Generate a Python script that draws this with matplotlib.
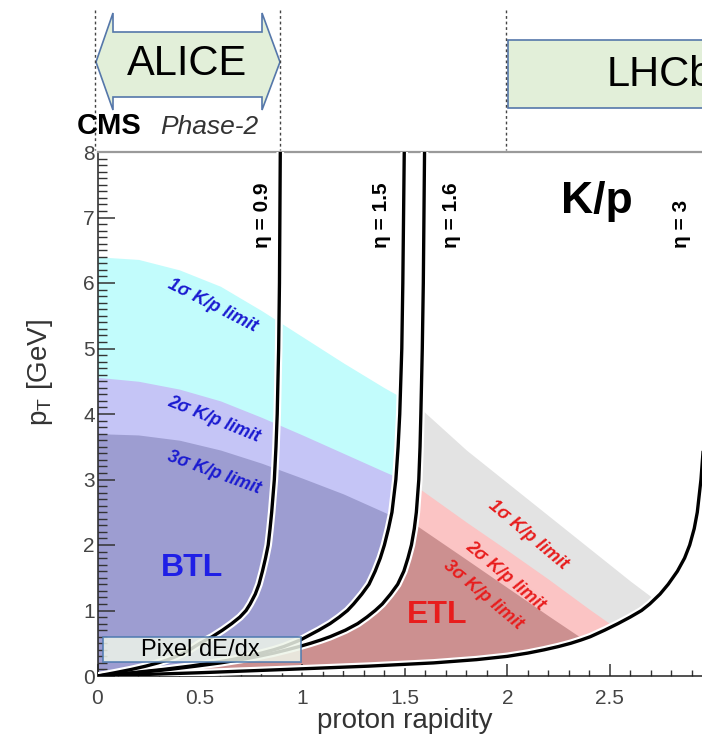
import matplotlib.pyplot as plt
from matplotlib.patches import Polygon, Rectangle
from matplotlib.ticker import MultipleLocator, FuncFormatter
from matplotlib.transforms import blended_transform_factory

plt.rcParams['font.family'] = ['Liberation Sans', 'DejaVu Sans']
plt.rcParams['mathtext.default'] = 'regular'

W, H = 702, 745

# fixed-eta curves: proton rapidity vs pT
pt_grid = [0, 0.05, 0.1, 0.15, 0.2, 0.25, 0.3, 0.35, 0.4, 0.45, 0.5, 0.55, 0.6, 0.7,
           0.8, 0.9, 1.0, 1.1, 1.25, 1.4, 1.6, 1.8, 2.0, 2.25, 2.5, 3.0, 3.5, 4.0,
           5.0, 6.0, 8.0]
rap_eta09 = [0, 0.085, 0.165, 0.235, 0.295, 0.345, 0.385, 0.42, 0.45, 0.475, 0.50,
             0.53, 0.56, 0.61, 0.655, 0.695, 0.725, 0.745, 0.77, 0.788, 0.805, 0.82,
             0.833, 0.842, 0.85, 0.863, 0.871, 0.877, 0.884, 0.888, 0.892]
rap_eta15 = [0, 0.17, 0.32, 0.45, 0.56, 0.655, 0.735, 0.80, 0.86, 0.91, 0.95,
             0.99, 1.02, 1.08, 1.135, 1.18, 1.22, 1.25, 1.29, 1.325, 1.355, 1.38,
             1.40, 1.42, 1.437, 1.456, 1.467, 1.475, 1.485, 1.49, 1.497]
rap_eta16 = [0, 0.19, 0.35, 0.48, 0.60, 0.70, 0.785, 0.86, 0.925, 0.985, 1.04,
             1.09, 1.135, 1.21, 1.27, 1.315, 1.355, 1.39, 1.43, 1.465, 1.495, 1.515,
             1.532, 1.546, 1.556, 1.568, 1.574, 1.578, 1.585, 1.59, 1.596]
rap_eta30 = [0, 0.5, 0.92, 1.32, 1.64, 1.85, 2.0, 2.1, 2.18, 2.25, 2.31,
             2.36, 2.405, 2.475, 2.54, 2.60, 2.655, 2.695, 2.745, 2.785, 2.83, 2.865,
             2.89, 2.912, 2.927, 2.945, 2.957, 2.965, 2.977, 2.985, 2.995]
eta_labels = ['0.9', '1.5', '1.6', '3']

# K/p separation limits (upper pT) for BTL and ETL
btl_rap = [0, 0.2, 0.4, 0.6, 0.8, 1.0, 1.2, 1.4, 1.6]
btl_1sig = [6.40, 6.36, 6.20, 5.95, 5.58, 5.18, 4.78, 4.40, 4.05]
btl_2sig = [4.56, 4.50, 4.38, 4.20, 3.95, 3.68, 3.40, 3.12, 2.85]
btl_3sig = [3.70, 3.68, 3.60, 3.45, 3.25, 3.02, 2.78, 2.50, 2.22]

etl_rap = [0, 1.5, 1.8, 2.0, 2.2, 2.4, 2.6, 2.8, 3.0]
etl_1sig = [4.30, 4.30, 3.45, 2.95, 2.45, 1.95, 1.45, 0.98, 0.50]
etl_2sig = [3.02, 3.02, 2.35, 1.92, 1.48, 1.02, 0.58, 0.15, 0.0]
etl_3sig = [2.42, 2.42, 1.78, 1.35, 0.92, 0.50, 0.10, 0.0, 0.0]

btl_cols = ['#c2fcfc', '#c5c5f6', '#9d9dd1']
etl_cols = ['#e3e3e3', '#fbc4c4', '#cc9090']


def fig_xy(px, py):
    return px / W, 1 - py / H


fig = plt.figure(figsize=(W / 100, H / 100), dpi=100)
ax = fig.add_axes([97.5 / W, 1 - 676 / H, (W - 97.5) / W, (676 - 152) / H])
ax.set_xlim(0, 2.95)
ax.set_ylim(0, 8)

# clip regions: BTL left of eta=1.5, ETL between eta=1.6 and eta=3
btl_clip = Polygon(list(zip(rap_eta15, pt_grid)) + [(0, 8)], closed=True,
                   transform=ax.transData)
etl_clip = Polygon(list(zip(rap_eta16, pt_grid)) + list(zip(rap_eta30, pt_grid))[::-1],
                   closed=True, transform=ax.transData)

for lim, col in zip([btl_1sig, btl_2sig, btl_3sig], btl_cols):
    f = ax.fill_between(btl_rap, 0, lim, color=col, lw=0, zorder=1)
    f.set_clip_path(btl_clip)
for lim, col in zip([etl_1sig, etl_2sig, etl_3sig], etl_cols):
    f = ax.fill_between(etl_rap, 0, lim, color=col, lw=0, zorder=1)
    f.set_clip_path(etl_clip)

ax.fill_betweenx(pt_grid, rap_eta15, rap_eta16, color='white', lw=0, zorder=2)

for rap in [rap_eta09, rap_eta15, rap_eta16, rap_eta30]:
    ax.plot(rap, pt_grid, color='white', lw=5.5, zorder=3)
    ax.plot(rap, pt_grid, color='black', lw=2.4, zorder=4)

# eta labels
for xpos, lab in zip([0.807, 1.388, 1.729, 2.85], eta_labels):
    ax.text(xpos, 6.53, '\u03b7 = ' + lab, rotation=90, ha='center', va='bottom',
            fontsize=15, fontweight='bold', zorder=6)

ax.text(2.437, 7.07, 'K/p', fontsize=32, fontweight='bold', ha='center',
        va='baseline', zorder=6)
ax.text(0.461, 1.65, 'BTL', fontsize=23, fontweight='bold', color='#1f1fe6',
        ha='center', va='center', zorder=6)
ax.text(1.656, 0.93, 'ETL', fontsize=23, fontweight='bold', color='#e81d1d',
        ha='center', va='center', zorder=6)

blue_lab = [(0.559, 5.66, -27, '1\u03c3 K/p limit'),
            (0.568, 3.91, -22, '2\u03c3 K/p limit'),
            (0.568, 3.11, -20, '3\u03c3 K/p limit')]
for xx, yy, rot, s in blue_lab:
    ax.text(xx, yy, s, rotation=rot, fontsize=13, fontweight='bold', style='italic',
            color='#1a1ad0', ha='center', va='center', zorder=6)
red_lab = [(2.10, 2.15, -40, '1\u03c3 K/p limit'),
           (1.988, 1.53, -40, '2\u03c3 K/p limit'),
           (1.88, 1.24, -40, '3\u03c3 K/p limit')]
for xx, yy, rot, s in red_lab:
    ax.text(xx, yy, s, rotation=rot, fontsize=13, fontweight='bold', style='italic',
            color='#e81d1d', ha='center', va='center', zorder=6)

# pixel dE/dx box
ax.add_patch(Rectangle((0.027, 0.21), 0.966, 0.385, facecolor='#eef5e9', alpha=0.85,
                       edgecolor='#4f7bb0', lw=1.3, zorder=7))
ax.text(0.50, 0.40, 'Pixel dE/dx', fontsize=17, ha='center', va='center', zorder=8)

# axes style
for side in ['left', 'bottom']:
    ax.spines[side].set_color('#222222')
    ax.spines[side].set_linewidth(1.1)
ax.spines['top'].set_color('#9a9a9a')
ax.spines['top'].set_linewidth(1.6)
ax.spines['right'].set_visible(False)

fmt = FuncFormatter(lambda v, p: f'{v:g}')
ax.xaxis.set_major_locator(MultipleLocator(0.5))
ax.xaxis.set_minor_locator(MultipleLocator(0.1))
ax.yaxis.set_major_locator(MultipleLocator(1))
ax.yaxis.set_minor_locator(MultipleLocator(0.1))
ax.xaxis.set_major_formatter(fmt)
ax.yaxis.set_major_formatter(fmt)
ax.tick_params(which='both', direction='in', top=False, right=False,
               color='#333333', labelcolor='#444444')
ax.tick_params(axis='x', which='major', length=9, width=1.1, labelsize=15, pad=9)
ax.tick_params(axis='x', which='minor', length=4.5, width=1)
ax.tick_params(axis='y', which='major', length=12, width=1.1, labelsize=15, pad=2)
ax.tick_params(axis='y', which='minor', length=6.5, width=1)

fig.text(*fig_xy(405, 721), 'proton rapidity', fontsize=20, color='#333333',
         ha='center', va='center')
fig.text(*fig_xy(40, 372), 'p$_{T}$ [GeV]', fontsize=20, color='#333333',
         rotation=90, ha='center', va='center')

# experiment coverage annotations above the frame
trans = blended_transform_factory(ax.transData, fig.transFigure)
for xd in [-0.01, 0.89, 1.995]:
    fig.add_artist(plt.Line2D([xd, xd], [fig_xy(0, 10)[1], fig_xy(0, 150)[1]],
                              transform=trans, color='#444444', lw=1, ls=(0, (2, 2))))

arrow_px = [(96, 62), (113, 13), (113, 32), (262, 32), (262, 13), (280, 62),
            (262, 110), (262, 97), (113, 97), (113, 110)]
fig.add_artist(Polygon([fig_xy(*p) for p in arrow_px], closed=True, facecolor='#e2efd9',
                       edgecolor='#5577aa', lw=1.2, transform=fig.transFigure))
fig.text(*fig_xy(187, 64), 'ALICE', fontsize=30, ha='center', va='center')

x0, y0 = fig_xy(508, 108)
x1, y1 = fig_xy(760, 40)
fig.add_artist(Rectangle((x0, y0), x1 - x0, y1 - y0, facecolor='#e2efd9',
                         edgecolor='#5577aa', lw=1.2, transform=fig.transFigure))
fig.text(*fig_xy(607, 75), 'LHCb', fontsize=30, ha='left', va='center')

fig.text(*fig_xy(77, 134), 'CMS', fontsize=21, fontweight='bold', ha='left',
         va='baseline')
fig.text(*fig_xy(160, 134), 'Phase-2', fontsize=19, style='italic', color='#333333',
         ha='left', va='baseline')

fig.savefig('out.png', dpi=100)
